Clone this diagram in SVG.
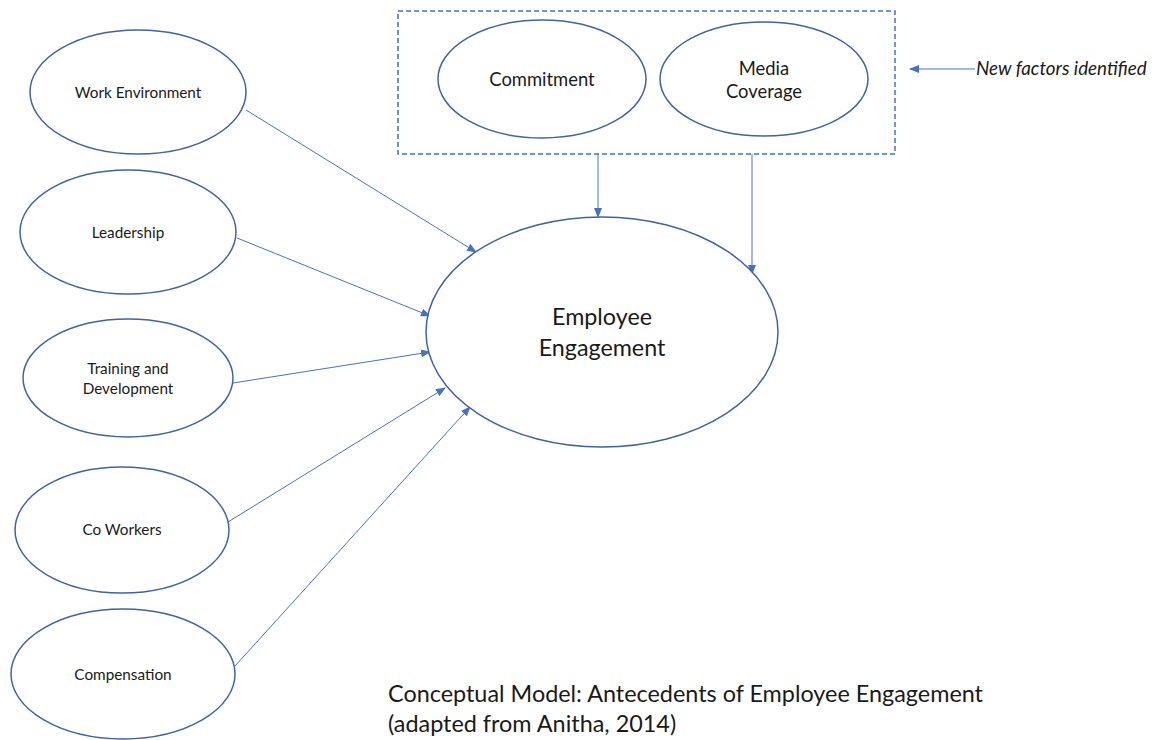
<svg xmlns="http://www.w3.org/2000/svg" width="1168" height="740" viewBox="0 0 1168 740">
  <style>
    .node { fill: #ffffff; stroke: #3f62a8; stroke-width: 1.5; }
    .lbl { font-family: Lato, "Open Sans", sans-serif; fill: #1a1a1a; text-anchor: middle; }
    .small { font-size: 15.3px; }
    .mid { font-size: 18.4px; }
    .big { font-size: 23.3px; }
    .edge { stroke: #4472c4; stroke-width: 1; fill: none; marker-end: url(#arrow); }
    .cap { font-family: Lato, "Open Sans", sans-serif; font-size: 23.4px; fill: #1a1a1a; }
    .note { font-family: Lato, "Open Sans", sans-serif; font-size: 18.8px; font-style: italic; fill: #1a1a1a; }
  </style>
  <defs>
    <marker id="arrow" markerWidth="10" markerHeight="8" refX="9" refY="4" orient="auto" markerUnits="userSpaceOnUse">
      <path d="M0,0 L10,4 L0,8 Z" fill="#4472c4"/>
    </marker>
  </defs>
  <rect width="1168" height="740" fill="#ffffff"/>

  <!-- group of new factors -->
  <rect id="new-factors" x="398" y="11" width="497" height="143" fill="none" stroke="#4472c4" stroke-width="1.5" stroke-dasharray="5,3"/>

  <g id="connectors">
    <line class="edge" x1="246" y1="110" x2="476" y2="252"/>
    <line class="edge" x1="237" y1="238" x2="430" y2="316"/>
    <line class="edge" x1="233" y1="383" x2="430" y2="352"/>
    <line class="edge" x1="228" y1="522" x2="445" y2="388"/>
    <line class="edge" x1="235" y1="666" x2="470" y2="407"/>
    <line class="edge" x1="598" y1="154" x2="598" y2="217"/>
    <line class="edge" x1="752" y1="154" x2="752" y2="274"/>
    <line class="edge" x1="975" y1="69" x2="910" y2="69"/>
  </g>

  <g id="work-environment">
    <ellipse class="node" cx="138" cy="92" rx="108" ry="62"/>
    <text class="lbl small" x="138" y="98">Work Environment</text>
  </g>
  <g id="leadership">
    <ellipse class="node" cx="128" cy="232" rx="108" ry="62"/>
    <text class="lbl small" x="128" y="238">Leadership</text>
  </g>
  <g id="training">
    <ellipse class="node" cx="128" cy="378" rx="105" ry="59"/>
    <text class="lbl small" x="128" y="374">Training and</text>
    <text class="lbl small" x="128" y="394">Development</text>
  </g>
  <g id="co-workers">
    <ellipse class="node" cx="122" cy="530" rx="107" ry="63"/>
    <text class="lbl small" x="122" y="535">Co Workers</text>
  </g>
  <g id="compensation">
    <ellipse class="node" cx="123" cy="674" rx="112" ry="65"/>
    <text class="lbl small" x="123" y="680">Compensation</text>
  </g>
  <g id="employee-engagement">
    <ellipse class="node" cx="602" cy="332" rx="176" ry="115"/>
    <text class="lbl big" x="602" y="325">Employee</text>
    <text class="lbl big" x="602" y="356">Engagement</text>
  </g>
  <g id="commitment">
    <ellipse class="node" cx="542" cy="79" rx="104" ry="59"/>
    <text class="lbl mid" x="542" y="86">Commitment</text>
  </g>
  <g id="media-coverage">
    <ellipse class="node" cx="764" cy="79" rx="104" ry="57"/>
    <text class="lbl mid" x="764" y="75">Media</text>
    <text class="lbl mid" x="764" y="98">Coverage</text>
  </g>

  <text class="note" x="976" y="75">New factors identified</text>

  <text class="cap" x="388" y="702">Conceptual Model: Antecedents of Employee Engagement</text>
  <text class="cap" x="388" y="732">(adapted from Anitha, 2014)</text>
</svg>
